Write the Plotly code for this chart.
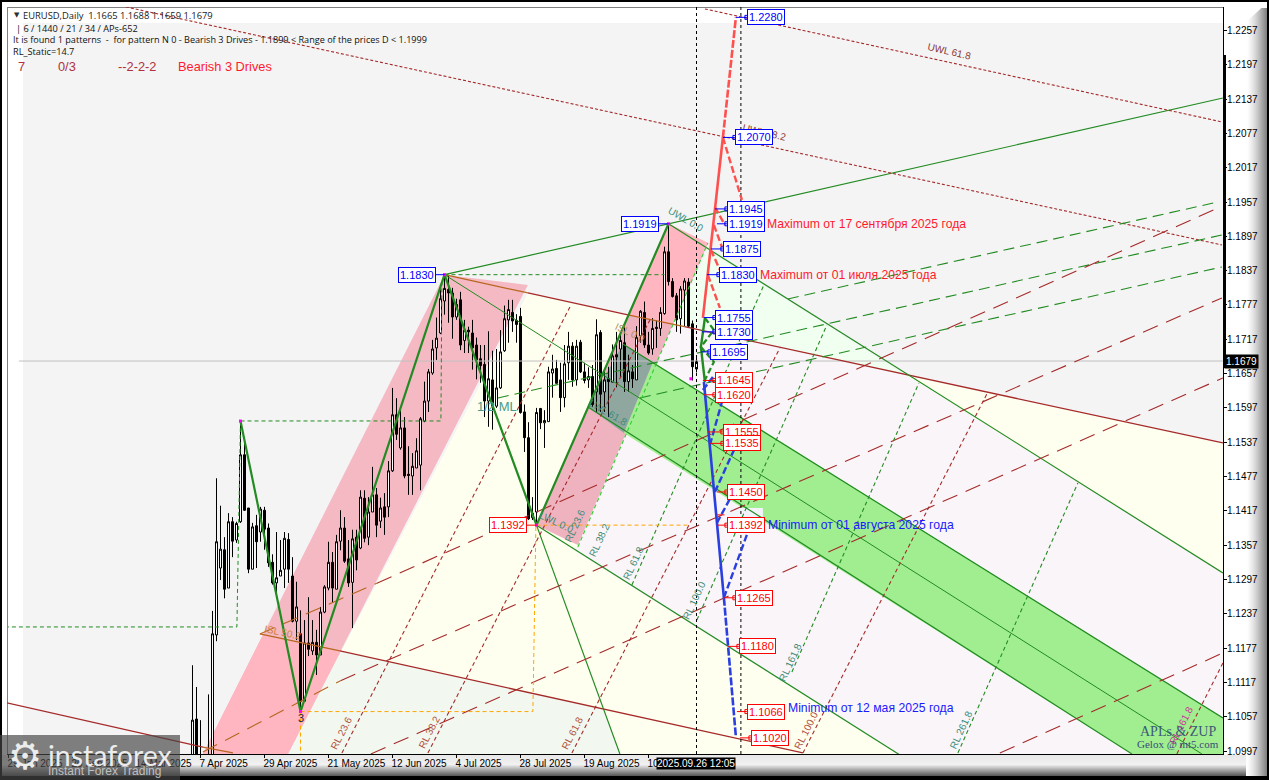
import plotly.graph_objects as go

# ---------------- data ----------------
bar_index = list(range(-2, 125))
opens = [1.0850,1.1053,1.0950,1.0905,1.0945,1.0945,1.1200,1.1317,1.1349,1.1282,
 1.1398,1.1366,1.1398,1.1515,1.1422,1.1315,1.1391,1.1380,1.1418,1.1387,
 1.1327,1.1291,1.1303,1.1315,1.1367,1.1303,1.1224,1.1202,1.1084,1.1186,
 1.1172,1.1187,1.1165,1.1240,1.1282,1.1327,1.1280,1.1364,1.1387,1.1333,
 1.1292,1.1371,1.1352,1.1439,1.1371,1.1415,1.1445,1.1399,1.1424,1.1424,
 1.1487,1.1585,1.1527,1.1562,1.1481,1.1478,1.1492,1.1497,1.1574,1.1609,
 1.1658,1.1702,1.1728,1.1784,1.1804,1.1798,1.1756,1.1786,1.1715,1.1733,
 1.1728,1.1707,1.1683,1.1673,1.1609,1.1646,1.1600,1.1632,1.1697,1.1751,
 1.1764,1.1750,1.1757,1.1590,1.1545,1.1405,1.1415,1.1596,1.1571,1.1573,
 1.1658,1.1666,1.1646,1.1615,1.1676,1.1705,1.1646,1.1712,1.1660,1.1646,
 1.1652,1.1625,1.1729,1.1625,1.1648,1.1642,1.1690,1.1700,1.1711,1.1643,
 1.1660,1.1646,1.1723,1.1764,1.1707,1.1700,1.1738,1.1736,1.1762,1.1870,
 1.1818,1.1793,1.1753,1.1803,1.1817,1.1744,1.1665]
highs = [1.1147,1.1109,1.1051,1.0980,1.1096,1.1242,1.1474,1.1426,1.1371,1.1413,
 1.1406,1.1398,1.1574,1.1537,1.1422,1.1396,1.1410,1.1424,1.1424,1.1395,
 1.1341,1.1380,1.1366,1.1380,1.1378,1.1336,1.1293,1.1243,1.1226,1.1266,
 1.1226,1.1209,1.1249,1.1287,1.1363,1.1345,1.1375,1.1418,1.1406,1.1366,
 1.1384,1.1384,1.1453,1.1453,1.1441,1.1494,1.1457,1.1440,1.1448,1.1504,
 1.1632,1.1614,1.1597,1.1581,1.1530,1.1518,1.1544,1.1581,1.1643,1.1665,
 1.1716,1.1755,1.1804,1.1830,1.1829,1.1807,1.1788,1.1800,1.1751,1.1739,
 1.1751,1.1720,1.1707,1.1707,1.1731,1.1697,1.1700,1.1733,1.1776,1.1786,
 1.1786,1.1761,1.1772,1.1603,1.1572,1.1441,1.1597,1.1597,1.1593,1.1669,
 1.1690,1.1681,1.1676,1.1707,1.1730,1.1712,1.1716,1.1716,1.1676,1.1668,
 1.1672,1.1752,1.1733,1.1665,1.1669,1.1708,1.1730,1.1725,1.1740,1.1690,
 1.1672,1.1740,1.1768,1.1783,1.1730,1.1754,1.1750,1.1773,1.1879,1.1919,
 1.1824,1.1798,1.1810,1.1824,1.1824,1.1750,1.1688]
lows = [1.0830,1.0880,1.0880,1.0880,1.0885,1.0930,1.1189,1.1296,1.1264,1.1282,
 1.1336,1.1361,1.1396,1.1417,1.1308,1.1315,1.1317,1.1363,1.1349,1.1319,
 1.1288,1.1266,1.1303,1.1282,1.1291,1.1222,1.1191,1.1065,1.1084,1.1163,
 1.1165,1.1130,1.1165,1.1238,1.1278,1.1256,1.1280,1.1348,1.1326,1.1284,
 1.1212,1.1313,1.1350,1.1362,1.1357,1.1415,1.1371,1.1387,1.1375,1.1406,
 1.1485,1.1541,1.1524,1.1474,1.1445,1.1445,1.1492,1.1453,1.1572,1.1590,
 1.1655,1.1681,1.1726,1.1760,1.1746,1.1718,1.1751,1.1698,1.1693,1.1693,
 1.1664,1.1647,1.1641,1.1581,1.1564,1.1559,1.1597,1.1630,1.1695,1.1711,
 1.1730,1.1711,1.1587,1.1520,1.1401,1.1401,1.1392,1.1560,1.1527,1.1573,
 1.1615,1.1640,1.1590,1.1598,1.1646,1.1634,1.1636,1.1658,1.1640,1.1632,
 1.1599,1.1590,1.1590,1.1590,1.1581,1.1642,1.1633,1.1650,1.1625,1.1625,
 1.1632,1.1646,1.1711,1.1702,1.1690,1.1690,1.1702,1.1723,1.1760,1.1811,
 1.1790,1.1730,1.1727,1.1740,1.1738,1.1645,1.1659]
closes = [1.1051,1.0955,1.0905,1.0960,1.0950,1.1202,1.1363,1.1350,1.1280,1.1398,
 1.1364,1.1395,1.1515,1.1418,1.1315,1.1389,1.1363,1.1420,1.1385,1.1326,
 1.1291,1.1300,1.1313,1.1369,1.1315,1.1224,1.1249,1.1084,1.1186,1.1175,
 1.1187,1.1165,1.1240,1.1284,1.1327,1.1282,1.1363,1.1387,1.1329,1.1291,
 1.1368,1.1331,1.1441,1.1369,1.1415,1.1445,1.1392,1.1422,1.1406,1.1487,
 1.1585,1.1551,1.1562,1.1478,1.1479,1.1495,1.1522,1.1578,1.1609,1.1660,
 1.1700,1.1719,1.1788,1.1806,1.1798,1.1756,1.1778,1.1707,1.1733,1.1730,
 1.1702,1.1681,1.1671,1.1609,1.1648,1.1600,1.1632,1.1695,1.1753,1.1769,
 1.1749,1.1743,1.1589,1.1545,1.1403,1.1413,1.1589,1.1571,1.1575,1.1660,
 1.1665,1.1640,1.1615,1.1674,1.1705,1.1646,1.1705,1.1660,1.1645,1.1652,
 1.1603,1.1725,1.1621,1.1646,1.1643,1.1688,1.1686,1.1715,1.1643,1.1662,
 1.1648,1.1720,1.1766,1.1707,1.1693,1.1736,1.1736,1.1764,1.1870,1.1818,
 1.1792,1.1751,1.1805,1.1819,1.1740,1.1669,1.1679]
assert len(bar_index) == len(opens) == len(highs) == len(lows) == len(closes)

date_ticks = [-48,-32,-16,0,16,32,48,64,80,96,112]
date_labels = ["29 Jan 2025","20 Feb 2025","14 Mar 2025","7 Apr 2025","29 Apr 2025","21 May 2025",
               "12 Jun 2025","4 Jul 2025","28 Jul 2025","19 Aug 2025","10 Sep 2025"]
price_ticks = [1.2257,1.2197,1.2137,1.2077,1.2017,1.1957,1.1897,1.1837,1.1777,1.1717,1.1657,
               1.1597,1.1537,1.1477,1.1417,1.1357,1.1297,1.1237,1.1177,1.1117,1.1057,1.0997]
x_range = [-48.375, 255.625]
y_range = [1.09918, 1.22981]

zigzag_k = [10,25,61,84,117]
zigzag_p = [1.1574,1.1066,1.1830,1.1392,1.1919]

level_prices = [1.2280,1.2070,1.1945,1.1919,1.1875,1.1830,1.1755,1.1730,1.1695,
                1.1645,1.1620,1.1555,1.1535,1.1450,1.1392,1.1265,1.1180,1.1066,1.1020]
level_anchor = [133.85,130.6,128.6,129.1,127.6,126.6,125.85,125.35,125.1,
                125.6,125.85,126.85,127.35,129.1,129.1,130.85,131.85,134.1,134.85]
level_box = [136.6,133.6,131.6,131.6,130.6,129.6,128.6,128.6,127.35,
             128.6,128.6,130.6,130.6,131.6,131.6,133.6,134.6,136.6,137.6]
left_prices = [1.1830,1.1919,1.1392]
left_anchor = [61,117,84]
left_box = [58.85,114.6,81.6]
left_colors = ["#0000ff","#0000ff","#ff0000"]

# ---------------- styles ----------------
RED = "#a52a2a"; BROWN = "#b8661e"; GREEN = "#228b22"; ORANGE = "#ffa500"
TXT_RL = "#3c8c78"; TXT_RR = "#b0503c"

def fx(x): return (x - 7) / 1216
def fy(y): return (754 - y) / 747

fig = go.Figure()
shapes, notes = [], []

def poly(ks, ps, color):
    d = "M " + " L ".join(f"{a},{b}" for a, b in zip(ks, ps)) + " Z"
    shapes.append(dict(type="path", path=d, xref="x", yref="y", fillcolor=color,
                       line=dict(width=0), layer="below"))

def rect(x0, y0, x1, y1, color, layer="below"):
    shapes.append(dict(type="rect", xref="paper", yref="paper", x0=fx(x0), x1=fx(x1), y0=fy(y0), y1=fy(y1),
                       fillcolor=color, line=dict(width=0), layer=layer))

def line(ks, ps, color=GREEN, width=1, dash="solid", mode="lines"):
    fig.add_trace(go.Scatter(x=ks, y=ps, mode=mode, line=dict(color=color, width=width, dash=dash),
                             hoverinfo="skip", showlegend=False))

def note(x, y, text, color, size=10, family="Liberation Sans", angle=0, anchor="center", ref="data", **kw):
    d = dict(x=x, y=y, text=text, showarrow=False, textangle=angle, xanchor=anchor, yanchor="middle",
             font=dict(family=family, size=size, color=color))
    if ref == "paper":
        off = 2 if anchor == "left" and "bgcolor" not in kw else 0
        d.update(xref="paper", yref="paper", x=fx(x - off), y=fy(y))
    d.update(kw)
    notes.append(d)

# ---------------- filled zones ----------------
rect(23, 23, 1223, 754, "#f4f4f4")
poly([81.85,118.1,93.6,174.85,21.85], [1.17980,1.17438,1.13469,1.09901,1.09919], "#fffff0")
poly([176.35,255.6,255.6], [1.16546,1.15357,1.13084], "#fffff0")
poly([126.85,176.35,118.1], [1.18732,1.16546,1.17438], "#f0fff0")
poly([118.1,176.35,255.6,255.6,174.85,93.6], [1.17438,1.16546,1.13084,1.09919,1.09901,1.13469], "#faf5f8")
poly([34.85,100.85,104.85,21.85], [1.11720,1.10706,1.09919,1.09919], "#f2f8f0")
poly([0.6,61,81.85,21.85], [1.09919,1.1830,1.18120,1.09919], "#f5b9c4")
poly([0.6,15.6,35.1,21.85], [1.09919,1.11999,1.11720,1.09919], "#ffb6c1")
poly([84,117,126.85,94.35], [1.1392,1.1919,1.18855,1.13574], "#efb2bf")
poly([106.85,117,126.85,118.1], [1.17596,1.1919,1.18855,1.17438], "#ffb6c1")
poly([113.1,255.6,255.6,232.85,105.85], [1.16774,1.10548,1.09919,1.09919,1.15532], "#a0ee90")
poly([105.6,113.1,105.85,96.85], [1.17088,1.16774,1.15532,1.15987], "#8fa79f")
poly([131.6,140.6,140.6,131.6], [1.14221,1.14221,1.13976,1.13976], "#f3f3fb")

# ---------------- frame ----------------
rect(0, 0, 1269, 2, "#000000")
rect(0, 0, 2, 780, "#000000")
rect(7, 7, 8, 754, "#808080")
rect(7, 7, 1223, 8, "#808080")
for i in range(21):
    t = i / 20
    v = int(232 + 10 * t / 0.45) if t < 0.45 else int(242 - 150 * (t - 0.45) / 0.55)
    rect(2, 755 + i, 1267, 756 + i, f"rgb({v},{v},{v})")
for i in range(21):
    t = i / 20
    v = int(255 - 125 * t ** 1.4)
    rect(1246 + i, 8, 1247 + i, 776, f"rgb({v},{v},{v})")
shapes.append(dict(type="path", xref="paper", yref="paper",
                   path=f"M {fx(1244)},{fy(2)} L {fx(1268)},{fy(2)} L {fx(1246)},{fy(22)} Z",
                   fillcolor="#ffffff", line=dict(width=0), layer="below"))
rect(1267, 0, 1269, 780, "#000000")
rect(0, 776, 1269, 780, "#000000")
rect(1223, 55, 1226, 368, "#000000", "above")

# ---------------- candles ----------------
fig.add_trace(go.Candlestick(
    x=bar_index, open=opens, high=highs, low=lows, close=closes,
    increasing=dict(line=dict(color="#000000", width=1), fillcolor="#ffffff"),
    decreasing=dict(line=dict(color="#000000", width=1), fillcolor="#000000"),
    whiskerwidth=0, hoverinfo="skip", showlegend=False))

# ---------------- long lines ----------------
DW = 1.1
line([-45.4,255.6], [1.1679,1.1679], "#c0c0c0")
line([81.85,106.85], [1.17980,1.17596], RED, 1.3)
line([121,255.6], [1.17390,1.15357], RED, 1.3)
line([61,81.85], [1.1830,1.17980], BROWN, 1.3)
line([106.85,121], [1.17596,1.17390], BROWN, 1.3)
line([34.85,150.6], [1.11720,1.09936], RED, 1.3)
line([14.85,34.85], [1.12017,1.11720], BROWN, 1.3)
line([-48.4,0.6], [1.10811,1.10040], RED, 1.3)
line([0.6,8.1], [1.10040,1.09936], BROWN, 1.3)
line([61,255.6], [1.1830,1.21390], GREEN, 1.2)
line([117,255.6], [1.1919,1.13084], GREEN, 1.2)
line([61,250.35], [1.1830,1.09919], GREEN, 1)
line([84,174.85], [1.1392,1.09901], GREEN, 1.2)
line([84,104.85], [1.1392,1.09919], GREEN, 1.2)
line([105.6,255.6], [1.17088,1.10548], GREEN, 1.2)
line([96.85,232.85], [1.15987,1.09919], GREEN, 1.2)

line([-18.65,255.35], [1.22982,1.18820], RED, DW, "3px,2px")
line([126.1,255.35], [1.22947,1.20971], RED, DW, "3px,2px")

line([146.85,254.35], [1.17875,1.19572], GREEN, DW, "11px,6px")
line([74.35,255.35], [1.16144,1.18995], GREEN, DW, "11px,6px")
line([109.85,255.35], [1.16144,1.18435], GREEN, DW, "11px,6px")

line([44.1,254.35], [1.12904,1.19467], RED, DW, "16px,9px")
line([35,255.35], [1.11200,1.17893], RED, DW, "16px,9px")
line([42.6,255.6], [1.09919,1.16494], RED, DW, "16px,9px")
line([199.85,255.6], [1.09936,1.11685], RED, DW, "16px,9px")
line([14.85,44.1], [1.12017,1.12904], BROWN, DW, "16px,9px")
line([0.6,35], [1.09954,1.11200], BROWN, DW, "16px,9px")

line([35.35,92.6], [1.09936,1.17770], RED, DW, "4px,3px")
line([56.85,112.35], [1.09936,1.17508], RED, DW, "4px,3px")
line([92.85,144.85], [1.09936,1.17019], RED, DW, "4px,3px")
line([150.6,196.85], [1.09936,1.16249], RED, DW, "4px,3px")
line([244.1,255.6], [1.09919,1.11510], RED, DW, "4px,3px")

line([94.35,126.85], [1.13539,1.18855], "#32cd32", DW, "4px,3px")
line([107.85,140.85], [1.12874,1.18120], GREEN, DW, "4px,3px")
line([124.1,156.6], [1.12262,1.17421], GREEN, DW, "4px,3px")
line([147.85,179.6], [1.11353,1.16406], GREEN, DW, "4px,3px")
line([189.35,219.35], [1.09936,1.14658], GREEN, DW, "4px,3px")

# helper dashed boxes
line([10,60.1,60.35], [1.15742,1.15742,1.18207], GREEN, 1, "4px,3px")
line([10,9.1,-48.15], [1.15742,1.12140,1.12140], GREEN, 1, "4px,3px")
line([61,116], [1.1830,1.1830], GREEN, 1, "4px,3px")
line([25,83.1,83.85], [1.1066,1.1066,1.1392], ORANGE, 1, "4px,3px")
line([25,25], [1.1066,1.0992], ORANGE, 1, "4px,3px")
line([84,121.85], [1.1392,1.1392], ORANGE, 1, "4px,3px")

# vertical separators
line([124,124], y_range, "#000000", 1, "3px,3px")
line([135.1,135.1], y_range, "#000000", 1, "3px,3px")

# ---------------- pattern and projections ----------------
line(zigzag_k, zigzag_p, GREEN, 2.2)
line([125.6,130.6], [1.17543,1.2070], "#ff5050", 2.6)
line([130.6,133.85], [1.2070,1.2280], "#ff5050", 2.6, "8px,2px")
for ks, ps in [([130.6,135.35],[1.2070,1.19607]), ([128.6,131.1],[1.19484,1.19169]),
               ([128.35,130.35],[1.19169,1.18785]), ([127.6,129.85],[1.18732,1.18383]),
               ([126.85,129.85],[1.18295,1.17718])]:
    line(ks, ps, "#ff5050", 2.4, "7px,3px")
line([126.1,125.1,126.1], [1.17543,1.17036,1.16424], GREEN, 2.4)
line([126.1,128.35,125.1,128.35,125.85], [1.17543,1.17333,1.17036,1.16774,1.16424], GREEN, 2.2, "6px,3px")
line([125.85,130.85], [1.16424,1.1265], "#2a3fe0", 2.6)
line([130.85,133.85], [1.1265,1.10216], "#2a3fe0", 2.6, "8px,2px")
for ks, ps in [([125.6,128.1],[1.16284,1.16511]), ([127.35,130.35],[1.15322,1.16074]),
               ([128.6,133.6],[1.14501,1.15270]), ([129.1,132.6],[1.13959,1.14413]),
               ([130.85,136.85],[1.1265,1.13801])]:
    line(ks, ps, "#2a3fe0", 2.4, "7px,3px")

# pivot dots
fig.add_trace(go.Scatter(x=zigzag_k + [122.6], y=zigzag_p + [1.1648], mode="markers",
                         marker=dict(symbol="square", size=3, color="#ff00ff"),
                         hoverinfo="skip", showlegend=False))

# ---------------- level labels ----------------
rotated = [(35.35,1.10286,"RL 23.6",TXT_RR,-63),(57.35,1.10303,"RL 38.2",TXT_RR,-63),(93.1,1.10286,"RL 61.8",TXT_RR,-63),
           (151.6,1.10338,"RL 100.0",TXT_RR,-63),(245.35,1.10426,"RL 161.8","#cc3399",-63),
           (99.85,1.13661,"RL 38.2",TXT_RL,-65),(108.35,1.13259,"RL 61.8",TXT_RL,-65),(123.6,1.12612,"RL 100.0",TXT_RL,-65),
           (147.6,1.11528,"RL 161.8",TXT_RL,-65),(190.1,1.10355,"RL 261.8",TXT_RL,-65),(93.6,1.1392,"RL 23.6",TXT_RL,-65),
           (187.35,1.22195,"UWL 61.8","#8b3a3a",13),(141.1,1.20778,"UWL 38.2","#8b3a3a",13),
           (121.35,1.19257,"UWL 0.0",TXT_RL,30),(20.6,1.12035,"ISL 50.2","#d0803a",12),
           (107.35,1.17281,"ISL 0.0","#b09060",25),(89.1,1.13959,"LWL 0.0",TXT_RL,25),(101.85,1.15882,"LWL 61.8",TXT_RL,30)]
for k, p, t, c, a in rotated:
    note(k, p, t, c, 10, angle=a)
note(74.1, 1.15987, "1/2 ML", "#4a9a8a", 13)
note(25, 1.10548, "3", "#202040", 11)

for p, a, b in zip(level_prices, level_anchor, level_box):
    c = "#0000ff" if p > 1.1679 else "#ff0000"
    line([a, b], [p, p], c, 1)
    fig.add_trace(go.Scatter(x=[b], y=[p], mode="markers", marker=dict(symbol="square-open", size=4, color=c, line=dict(width=1)),
                             hoverinfo="skip", showlegend=False))
    note(b, p, f"{p:.4f}", c, 11, anchor="left", bgcolor="#ffffff", bordercolor=c, borderwidth=1, borderpad=1)
for p, a, b, c in zip(left_prices, left_anchor, left_box, left_colors):
    line([b, a], [p, p], c, 1)
    note(b, p, f"{p:.4f}", c, 11, anchor="right", bgcolor="#ffffff", bordercolor=c, borderwidth=1, borderpad=1)
line([129.1,131], [1.1410,1.1410], "#ff0000", 1)

note(141.1, 1.1919, "Maximum от 17 сентября 2025 года", "#ff1a2e", 12.2, anchor="left")
note(139.35, 1.1830, "Maximum от 01 июля 2025 года", "#ff1a2e", 12.2, anchor="left")
note(141.35, 1.1392, "Minimum от 01 августа 2025 года", "#1a1aff", 12.2, anchor="left")
note(146.35, 1.10723, "Minimum от 12 мая 2025 года", "#1a1aff", 12.2, anchor="left")

# ---------------- header text ----------------
F = "Open Sans"
note(14, 15, "▼", "#303030", 7, "DejaVu Sans", anchor="left", ref="paper")
note(23, 15, "EURUSD,Daily  1.1665 1.1688 1.1659 1.1679", "#202020", 9.4, F, anchor="left", ref="paper")
note(16, 28, "| 6 / 1440 / 21 / 34 / APs-652", "#101010", 9.2, F, anchor="left", ref="paper")
note(13, 40, "It is found 1 patterns  -  for pattern N 0 - Bearish 3 Drives - 1.1899 &lt; Range of the prices D &lt; 1.1999",
     "#101010", 9.1, F, anchor="left", ref="paper")
note(13, 52, "RL_Static=14.7", "#101010", 9.2, F, anchor="left", ref="paper")
note(18, 66.5, "7", "#b03040", 12.8, anchor="left", ref="paper")
note(58, 66.5, "0/3", "#b03040", 12.8, anchor="left", ref="paper")
note(118, 66.5, "--2-2-2", "#b03040", 12.8, anchor="left", ref="paper")
note(178, 66.5, "Bearish 3 Drives", "#ff1a2e", 12.8, anchor="left", ref="paper")

note(1178, 731, "APLs &amp; ZUP", "#3c5a78", 14, "Liberation Serif", ref="paper")
note(1178, 744, "Gelox @ mt5.com", "#3c4a78", 11, "Liberation Serif", ref="paper")

# ---------------- axis flags and watermark ----------------
note(1224, 361.5, "1.1679", "#ffffff", 10, anchor="left", ref="paper", bgcolor="#000000", borderpad=1)
note(696, 763, "2025.09.26 12:05", "#ffffff", 10, ref="paper", bgcolor="#000000", borderpad=0)
rect(0, 735, 180, 780, "rgba(70,70,70,0.68)", "above")
note(25, 756, "⚙", "#ececec", 38, "DejaVu Sans", ref="paper")
note(48, 755, "instaforex", "#ececec", 28.5, "Lato", anchor="left", ref="paper")
note(48, 771, "Instant Forex Trading", "#c0c0c0", 12, "Liberation Sans", anchor="left", ref="paper")

fig.update_layout(
    width=1269, height=780, margin=dict(l=7, r=46, t=7, b=26, autoexpand=False),
    paper_bgcolor="#ffffff", plot_bgcolor="#ffffff", showlegend=False, hovermode=False,
    shapes=shapes, annotations=notes, boxgap=0.5, boxgroupgap=0,
    xaxis=dict(range=x_range, tickmode="array", tickvals=date_ticks, ticktext=date_labels,
               ticks="outside", ticklen=3, tickcolor="#000000", tickwidth=1, showgrid=False, zeroline=False,
               showline=True, linecolor="#000000", linewidth=1, rangeslider=dict(visible=False),
               ticklabelposition="outside right", tickangle=0, automargin=False, ticklabelshift=-2,
               tickfont=dict(family="Liberation Sans", size=10, color="#000000")),
    yaxis=dict(range=y_range, side="right", tickmode="array", tickvals=price_ticks,
               ticktext=[f"{v:.4f}" for v in price_ticks], automargin=False, ticklabelstandoff=-2,
               ticks="outside", ticklen=3, tickcolor="#000000", tickwidth=1, showgrid=False, zeroline=False,
               showline=True, linecolor="#000000", linewidth=1,
               tickfont=dict(family="Liberation Sans", size=10, color="#000000")),
)
fig.write_html("out.html", config={"displayModeBar": False},
               post_script="document.body.style.margin='0';document.body.style.overflow='hidden';")
